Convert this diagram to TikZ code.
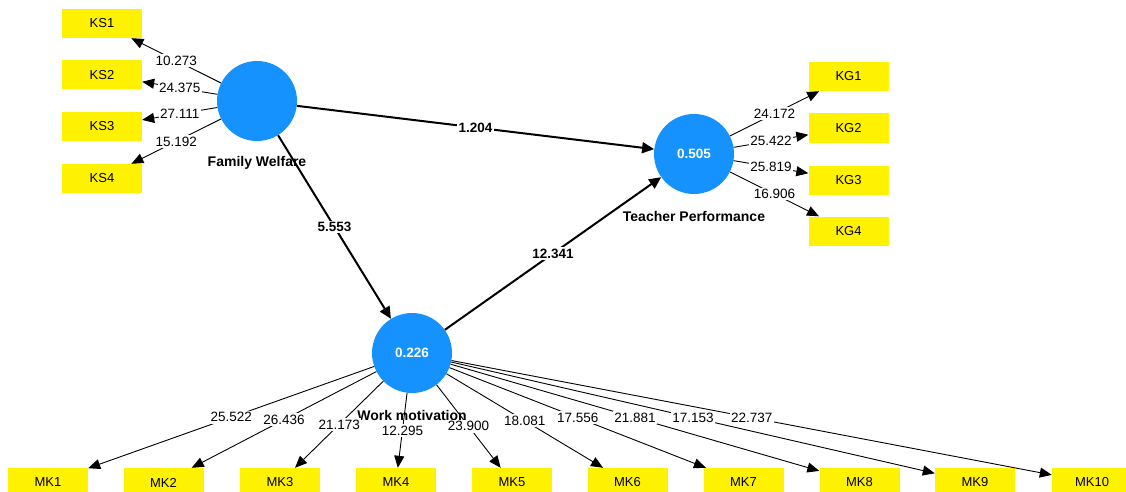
\documentclass[tikz,border=0pt]{standalone}
\usepackage{fontspec}
\setmainfont{Liberation Sans}
\usetikzlibrary{arrows.meta,calc}
\definecolor{lvblue}{RGB}{22,146,255}
\begin{document}
\begin{tikzpicture}[x=1pt,y=-1pt,
 lv/.style={circle,fill=lvblue,minimum size=80pt,inner sep=0pt,text=white,font=\fontsize{13.5}{15}\selectfont\bfseries},
 ind/.style={fill=yellow,minimum width=80pt,minimum height=29pt,inner sep=0pt,font=\fontsize{13}{15}\selectfont},
 lvname/.style={font=\fontsize{14}{16}\selectfont\bfseries,inner sep=0pt},
 outer/.style={draw=black,line width=0.9pt,-{Triangle[length=12pt,width=10pt]}},
 path/.style={draw=black,line width=2pt,-{Triangle[length=12pt,width=11pt]}},
 num/.style={fill=white,inner sep=1.5pt,font=\fontsize{13.5}{15}\selectfont},
 pnum/.style={fill=white,inner sep=1.5pt,font=\fontsize{13.5}{15}\selectfont\bfseries}]
\useasboundingbox (0,0) rectangle (1126,492);
\fill[white] (0,0) rectangle (1126,492);

% latent variables
\node[lv] (fw) at (257,101) {};
\node[lv] (tp) at (694,154) {0.505};
\node[lv] (wm) at (412,353) {0.226};
\node[lvname] (fwl) at ($(fw)+(0,62)$) {Family Welfare};
\node[lvname] (tpl) at ($(tp)+(0,62)$) {Teacher Performance};
\node[lvname] (wml) at ($(wm)+(0,62)$) {Work motivation};

% indicators
\node[ind] (ks1) at (102,23.5) {KS1};
\node[ind] (ks2) at (102,75) {KS2};
\node[ind] (ks3) at (102,126.5) {KS3};
\node[ind] (ks4) at (102,178.5) {KS4};
\node[ind] (kg1) at (848.5,76.5) {KG1};
\node[ind] (kg2) at (848.5,128) {KG2};
\node[ind] (kg3) at (848.5,180) {KG3};
\node[ind] (kg4) at (848.5,231) {KG4};
\node[ind] (mk1) at (48,482.5) {MK1};
\node[ind] (mk2) at (163.5,482.5) {MK2};
\node[ind] (mk3) at (280,482.5) {MK3};
\node[ind] (mk4) at (396,482.5) {MK4};
\node[ind] (mk5) at (512,482.5) {MK5};
\node[ind] (mk6) at (627.5,482.5) {MK6};
\node[ind] (mk7) at (743.5,482.5) {MK7};
\node[ind] (mk8) at (859.5,482.5) {MK8};
\node[ind] (mk9) at (975,482.5) {MK9};
\node[ind] (mk10) at (1092,482.5) {MK10};

% outer loadings
\draw[outer] (fw) -- node[num]{10.273} (ks1);
\draw[outer] (fw) -- node[num]{24.375} (ks2);
\draw[outer] (fw) -- node[num]{27.111} (ks3);
\draw[outer] (fw) -- node[num]{15.192} (ks4);
\draw[outer] (tp) -- node[num]{24.172} (kg1);
\draw[outer] (tp) -- node[num]{25.422} (kg2);
\draw[outer] (tp) -- node[num]{25.819} (kg3);
\draw[outer] (tp) -- node[num]{16.906} (kg4);
\draw[outer] (wm) -- node[num]{25.522} (mk1);
\draw[outer] (wm) -- node[num]{26.436} (mk2);
\draw[outer] (wm) -- node[num]{21.173} (mk3);
\draw[outer] (wm) -- node[num]{12.295} (mk4);
\draw[outer] (wm) -- node[num]{23.900} (mk5);
\draw[outer] (wm) -- node[num]{18.081} (mk6);
\draw[outer] (wm) -- node[num]{17.556} (mk7);
\draw[outer] (wm) -- node[num]{21.881} (mk8);
\draw[outer] (wm) -- node[num]{17.153} (mk9);
\draw[outer] (wm) -- node[num]{22.737} (mk10);

% structural paths
\draw[path] (fw) -- node[pnum]{1.204} (tp);
\draw[path] (fw) -- node[pnum]{5.553} (wm);
\draw[path] (wm) -- node[pnum]{12.341} (tp);
\end{tikzpicture}
\end{document}
